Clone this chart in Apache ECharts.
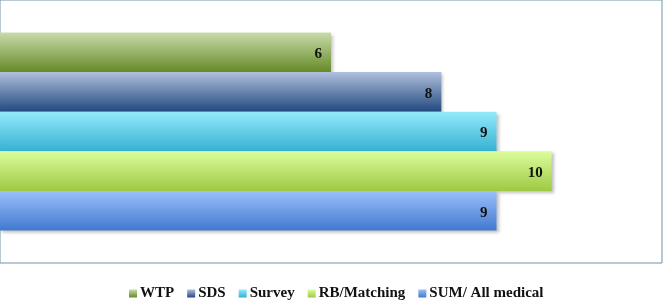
<!DOCTYPE html>
<html>
<head>
<meta charset="utf-8">
<script src="https://cdn.jsdelivr.net/npm/echarts@6/dist/echarts.min.js"></script>
<style>
  html, body { margin: 0; padding: 0; background: #fff; }
  #chart { width: 663px; height: 301px; }
</style>
</head>
<body>
<div id="chart"></div>
<script>
  // data
  var categories = [''];
  var seriesNames = ['WTP', 'SDS', 'Survey', 'RB/Matching', 'SUM/ All medical'];
  var values = [6, 8, 9, 10, 9];
  // gradient top / bottom colours per series
  var topColors = ['#c8dbab', '#b0bfdd', '#93ebfa', '#dcfd9c', '#9cc0fa'];
  var bottomColors = ['#668a26', '#22497f', '#36b0d3', '#9ec943', '#4179cf'];

  var chart = echarts.init(document.getElementById('chart'));

  var series = [];
  for (var i = 0; i < seriesNames.length; i++) {
    series.push({
      name: seriesNames[i],
      type: 'bar',
      data: [values[i]],
      barWidth: 39.6,
      barGap: '0%',
      itemStyle: {
        color: new echarts.graphic.LinearGradient(0, 0, 0, 1, [
          { offset: 0, color: topColors[i] },
          { offset: 1, color: bottomColors[i] }
        ]),
        shadowColor: 'rgba(0,0,0,0.25)',
        shadowBlur: 3,
        shadowOffsetX: 2,
        shadowOffsetY: 2
      },
      label: {
        show: true,
        position: 'insideRight',
        distance: 9,
        offset: [0, 2],
        color: '#111',
        fontFamily: 'Liberation Serif',
        fontWeight: 'bold',
        fontSize: 15
      }
    });
  }

  var option = {
    animation: false,
    grid: {
      left: 0, right: 1, top: 0, bottom: 38,
      show: true,
      borderColor: '#7093a8',
      borderWidth: 1,
      backgroundColor: 'transparent'
    },
    legend: {
      data: seriesNames,
      left: 129,
      top: 286,
      padding: 0,
      icon: 'rect',
      itemWidth: 8,
      itemHeight: 8,
      itemGap: 13,
      textStyle: {
        fontFamily: 'Liberation Serif',
        fontWeight: 'bold',
        fontSize: 15,
        color: '#111',
        padding: [0, 0, 0, -2]
      }
    },
    xAxis: {
      type: 'value',
      min: 0,
      max: 12,
      show: false
    },
    yAxis: {
      type: 'category',
      data: categories,
      inverse: true,
      show: false
    },
    series: series
  };

  chart.setOption(option);
</script>
</body>
</html>
